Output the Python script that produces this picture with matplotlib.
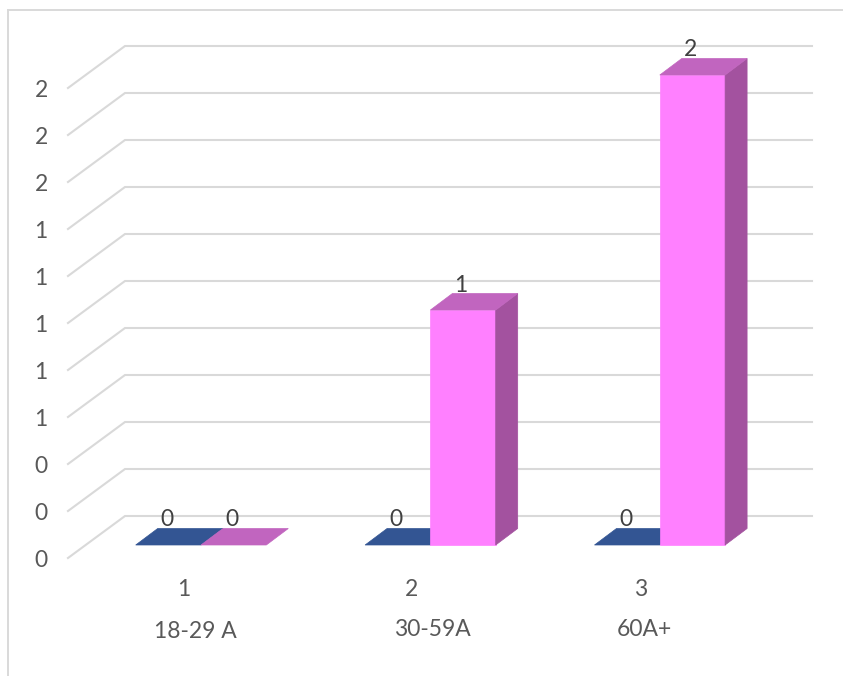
import numpy as np
import matplotlib
matplotlib.use('Agg')
import matplotlib.pyplot as plt
from matplotlib.patches import Polygon

# Values per age group
groups = ['18-29 A', '30-59A', '60A+']
group_numbers = ['1', '2', '3']
series_blue = [0, 0, 0]
series_pink = [0, 1, 2]

# Value axis
ticks = [0, 0.2, 0.4, 0.6, 0.8, 1.0, 1.2, 1.4, 1.6, 1.8, 2.0]
tick_labels = ['0', '0', '0', '1', '1', '1', '1', '1', '2', '2', '2']

W, H = 843, 676
X0, STEP = 201.0, 229.4   # pixel x of the first group, pixels between groups
Y0, UNIT = 545.0, 235.0   # pixel y of value 0 on the bar front, pixels per unit


def ux(px):
    return px / STEP


def uy(px):
    return px / UNIT


fig = plt.figure(figsize=(W / 100, H / 100), dpi=100)
ax = fig.add_axes([0, 0, 1, 1])
ax.set_xlim((0 - X0) / STEP, (W - X0) / STEP)
ax.set_ylim((Y0 - H) / UNIT, Y0 / UNIT)
ax.axis('off')

plt.rcParams['font.family'] = ['Lato', 'DejaVu Sans']
TEXT = '#595959'
LABEL = '#404040'
GRID = '#d9d9d9'
FS = 16.5

# Outer frame, only top and left show
frame_x = (7.5 - X0) / STEP
frame_y = (Y0 - 10) / UNIT
ax.plot([frame_x, frame_x], [(Y0 - H) / UNIT, frame_y], color=GRID, lw=1.4, zorder=1)
ax.plot([frame_x, (W - X0) / STEP], [frame_y, frame_y], color=GRID, lw=1.4, zorder=1)

# Gridlines: floor/wall diagonal, then along the back wall
wall_left = (68 - X0) / STEP
wall_back = (125 - X0) / STEP
wall_right = (812 - X0) / STEP
for t, lab in zip(ticks, tick_labels):
    ax.plot([wall_left, wall_back, wall_right],
            [t - uy(13), t + uy(29), t + uy(29)],
            color=GRID, lw=1.5, zorder=2, solid_joinstyle='miter')
    ax.text((41 - X0) / STEP, t - uy(15.5), lab, color=TEXT, fontsize=FS,
            ha='center', va='center')

bar_w = ux(65.3)
dx, dy = ux(22), uy(16.5)


def bar3d(left, height, front, top, side, z):
    right = left + bar_w
    if height > 0:
        ax.add_patch(Polygon([(left, 0), (right, 0), (right, height), (left, height)],
                             fc=front, ec=front, lw=0.5, zorder=z))
        ax.add_patch(Polygon([(right, 0), (right + dx, dy), (right + dx, height + dy), (right, height)],
                             fc=side, ec=side, lw=0.5, zorder=z))
    ax.add_patch(Polygon([(left, height), (right, height), (right + dx, height + dy), (left + dx, height + dy)],
                         fc=top, ec=top, lw=0.5, zorder=z))


for i in range(len(groups)):
    bar3d(i - bar_w, series_blue[i], '#335593', '#335593', '#26406e', 3)
    bar3d(i, series_pink[i], '#ff80ff', '#c165bf', '#a3529f', 4)

    # Data labels above each bar
    ax.annotate(str(series_blue[i]), (i - bar_w / 2, series_blue[i]), xytext=(-1, 25 * 0.72),
                textcoords='offset points', ha='center', va='center',
                color=LABEL, fontsize=FS, zorder=6)
    ax.annotate(str(series_pink[i]), (i + bar_w / 2, series_pink[i]), xytext=(-1.5, 25 * 0.72),
                textcoords='offset points', ha='center', va='center',
                color=LABEL, fontsize=FS, zorder=6)

# Two-level category axis
number_px = [184, 412, 641]
group_px = [195, 432, 644]
group_py = [631, 630, 630]
for n, g, nx, gx, gy in zip(group_numbers, groups, number_px, group_px, group_py):
    ax.text((nx - X0) / STEP, (Y0 - 590) / UNIT, n, color=TEXT, fontsize=FS,
            ha='center', va='center')
    ax.text((gx - X0) / STEP, (Y0 - gy) / UNIT, g, color=TEXT, fontsize=FS,
            ha='center', va='center')

fig.savefig('out.png', dpi=100, facecolor='white')
